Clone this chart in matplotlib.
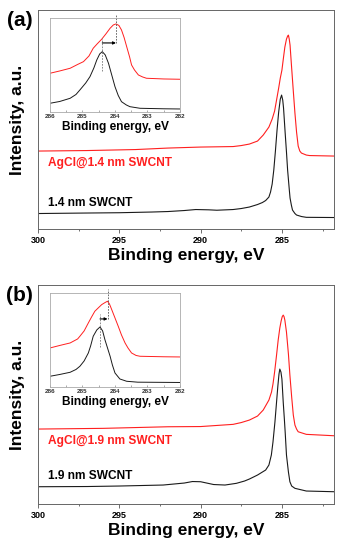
import numpy as np
import matplotlib.pyplot as plt
from matplotlib.ticker import MultipleLocator

plt.rcParams['font.family'] = ['Liberation Sans', 'DejaVu Sans']
plt.rcParams['font.weight'] = 'bold'

# ---- panel (a), main spectra: binding energy (eV) / intensity (a.u.)
a_pristine_e = [300, 297, 295, 293, 292, 291, 290.3, 289.5, 289, 288, 287.5, 287, 286.5, 286.2, 286,
                285.8, 285.7, 285.6, 285.5, 285.4, 285.3, 285.2, 285.1, 285.02, 284.95, 284.9, 284.8,
                284.72, 284.65, 284.55, 284.5, 284.42, 284.35, 284.2, 284.1, 283.8, 283.5, 281.8]
a_pristine_i = [15.5, 16, 16.3, 17, 17.5, 18.5, 19.5, 19.2, 18.8, 19.5, 20.5, 22, 24.5, 26.5, 28.5,
                32, 37, 45, 59, 78, 99, 117, 130, 134, 129, 121, 96,
                77, 59, 40, 31, 24, 19, 15.5, 14, 12.5, 11.7, 11.5]
a_filled_e = [300, 297, 294, 292, 290, 288, 287.5, 287, 286.5, 286.15, 285.8, 285.6, 285.45, 285.33,
              285.2, 285.1, 285.0, 284.9, 284.82, 284.72, 284.65, 284.6, 284.55, 284.5, 284.41, 284.3,
              284.2, 284.1, 284.0, 283.9, 283.8, 283.5, 283.3, 281.8]
a_filled_i = [78, 78.5, 79.5, 81, 82, 82.5, 83.5, 85, 88, 94, 102, 110, 118, 129,
              141, 151, 159, 172, 182, 190, 193, 194, 190, 184, 163, 138,
              116, 97, 83, 78, 76, 74, 73.5, 73]

# ---- panel (b), main spectra
b_pristine_e = [300, 297, 295, 292.3, 291, 290.5, 290, 289.2, 288.5, 287.8, 287.3, 287, 286.5, 286,
                285.8, 285.65, 285.55, 285.43, 285.35, 285.25, 285.18, 285.13, 285.06, 285.0, 284.92,
                284.85, 284.8, 284.72, 284.6, 284.51, 284.4, 284.2, 283.5, 281.8]
b_pristine_i = [17.3, 17.5, 18, 19, 21, 22.5, 22.3, 19.5, 19, 20.7, 23, 25, 29, 34,
                39, 49, 62, 82, 98, 118, 130, 135, 132, 125, 102,
                85, 72, 49, 32, 22.3, 18, 15.7, 13, 12.3]
b_filled_e = [300, 296, 292, 290, 288, 287.5, 287, 286.5, 286.15, 285.8, 285.64, 285.55, 285.45, 285.33,
              285.23, 285.13, 285.05, 284.98, 284.92, 284.87, 284.82, 284.72, 284.6, 284.51, 284.4,
              284.3, 284.2, 284.1, 284.0, 283.5, 281.8]
b_filled_i = [75, 75.7, 77.3, 77.5, 79.7, 81.5, 84, 88, 94, 104, 112, 120, 132, 149,
              164, 176, 183, 187.5, 189, 187.5, 184, 172, 150, 129, 107,
              89, 79, 75, 72.3, 69.7, 68.3]

# ---- insets (C 1s zoom)
ia_pristine_e = [286, 285.7, 285.38, 285.2, 285.08, 284.9, 284.77, 284.65, 284.56, 284.47, 284.39, 284.3,
                 284.2, 284.1, 284.0, 283.9, 283.8, 283.65, 283.54, 283.23, 282.5, 282]
ia_pristine_i = [6.7, 8.5, 11.7, 15.5, 20, 27, 33.3, 42, 50, 56, 58.3, 55,
                 46.7, 35, 23.3, 14.5, 8.3, 5, 3.3, 1.7, 1.2, 1]
ia_filled_e = [286, 285.7, 285.38, 285.15, 284.97, 284.8, 284.67, 284.55, 284.41, 284.28, 284.15, 284.05,
               283.97, 283.88, 283.8, 283.72, 283.64, 283.55, 283.49, 283.4, 283.28, 283.15, 283.03,
               282.5, 282]
ia_filled_i = [36.7, 39, 41.7, 45.5, 48.3, 54, 61.7, 66, 70.7, 76, 81.7, 85,
               86, 84.5, 80, 72.5, 63.3, 53, 45, 40, 35, 33, 31.7,
               31, 30.7]
ib_pristine_e = [286, 285.7, 285.38, 285.2, 285.08, 284.95, 284.82, 284.75, 284.67, 284.56, 284.46, 284.38,
                 284.31, 284.23, 284.15, 284.08, 284.0, 283.85, 283.64, 283.3, 282]
ib_pristine_i = [8.7, 10.5, 12.7, 15.5, 18.7, 24, 32, 39, 48.7, 55, 58, 54,
                 45.3, 37, 28.7, 20, 12, 6, 3.7, 2.8, 2.5]
ib_filled_e = [286, 285.7, 285.38, 285.15, 285.08, 284.95, 284.82, 284.72, 284.62, 284.5, 284.41, 284.3,
               284.23, 284.17, 284.1, 284.0, 283.9, 283.8, 283.69, 283.6, 283.49, 283.35, 283.23,
               282.5, 282]
ib_filled_i = [37, 39.5, 42, 46, 48.7, 54, 62, 68, 73.7, 77.5, 80.3, 82.5,
               83.7, 81, 75.3, 67, 58.7, 50, 42, 37, 32, 29.5, 28.7,
               28.2, 28]

# peak marks in the insets: (pristine peak, filled peak, arrow height)
ia_marks = (284.39, 283.97, 67)
ib_marks = (284.46, 284.23, 66)

labels_a = ('AgCl@1.4 nm SWCNT', '1.4 nm SWCNT')
labels_b = ('AgCl@1.9 nm SWCNT', '1.9 nm SWCNT')

RED = '#ff1f1f'
BLACK = '#1a1a1a'

fig = plt.figure(figsize=(3.42, 5.5), dpi=100)


def panel(bottom, tag, pe, pi, fe, fi, labels, ipe, ipi, ife, ifi, marks):
    ax = fig.add_axes([0.111, bottom, 0.8655, 0.398])
    ax.plot(pe, pi, color=BLACK, lw=0.8)
    ax.plot(fe, fi, color=RED, lw=0.8)
    ax.set_xlim(300, 281.8)
    ax.set_ylim(0, 219)
    ax.set_yticks([])
    ax.xaxis.set_major_locator(MultipleLocator(5))
    ax.xaxis.set_minor_locator(MultipleLocator(2.5))
    ax.tick_params(axis='x', which='major', direction='out', length=3, width=0.6,
                   colors='#555555', labelcolor='black', labelsize=6.5, pad=2)
    ax.tick_params(axis='x', which='minor', direction='out', length=1.5, width=0.6,
                   colors='#555555')
    for s in ax.spines.values():
        s.set_color('#666666')
        s.set_linewidth(0.7)
    ax.set_xlabel('Binding energy, eV', fontsize=12.5, fontweight='bold', labelpad=2)
    ax.set_ylabel('Intensity, a.u.', fontsize=12.5, fontweight='bold')
    ax.yaxis.set_label_coords(-0.045, 0.5)
    ax.text(299.4, fi[0] - 12, labels[0], color=RED, fontsize=8.6, fontweight='bold', va='center')
    ax.text(299.4, pi[0] + 11, labels[1], color='black', fontsize=8.6, fontweight='bold', va='center')
    fig.text(0.058, bottom + 0.38, tag, fontsize=15, fontweight='bold',
             ha='center', va='center')

    ins = fig.add_axes([0.1462, bottom + 0.2128, 0.380, 0.171])
    ins.plot(ipe, ipi, color=BLACK, lw=0.7)
    ins.plot(ife, ifi, color=RED, lw=0.7)
    ins.set_xlim(286, 282)
    ins.set_ylim(-2, 92)
    ins.set_yticks([])
    ins.xaxis.set_major_locator(MultipleLocator(1))
    ins.xaxis.set_minor_locator(MultipleLocator(0.5))
    ins.tick_params(axis='x', which='both', direction='in', length=1.5, width=0.5,
                    colors='#888888', labelcolor='#333333', labelsize=4.5, pad=1.5)
    for s in ins.spines.values():
        s.set_color('#aaaaaa')
        s.set_linewidth(0.6)
    ins.set_xlabel('Binding energy, eV', fontsize=8.6, fontweight='bold', va='center')
    ins.xaxis.set_label_coords(0.5, -0.16)
    p0, p1, yarr = marks
    ins.plot([p0, p0], [yarr - 28, yarr + 5], ls=(0, (2, 1.5)), color='#777777', lw=0.6)
    ins.plot([p1, p1], [yarr, 96], ls=(0, (2, 1.5)), color='#555555', lw=0.6, clip_on=False)
    ins.annotate('', xy=(p1, yarr), xytext=(p0, yarr),
                 arrowprops=dict(arrowstyle='-|>', color='black', lw=0.8,
                                 mutation_scale=4, shrinkA=0, shrinkB=0))


panel(0.5836, '(a)', a_pristine_e, a_pristine_i, a_filled_e, a_filled_i, labels_a,
      ia_pristine_e, ia_pristine_i, ia_filled_e, ia_filled_i, ia_marks)
panel(0.0836, '(b)', b_pristine_e, b_pristine_i, b_filled_e, b_filled_i, labels_b,
      ib_pristine_e, ib_pristine_i, ib_filled_e, ib_filled_i, ib_marks)

fig.savefig('out.png', dpi=100)
